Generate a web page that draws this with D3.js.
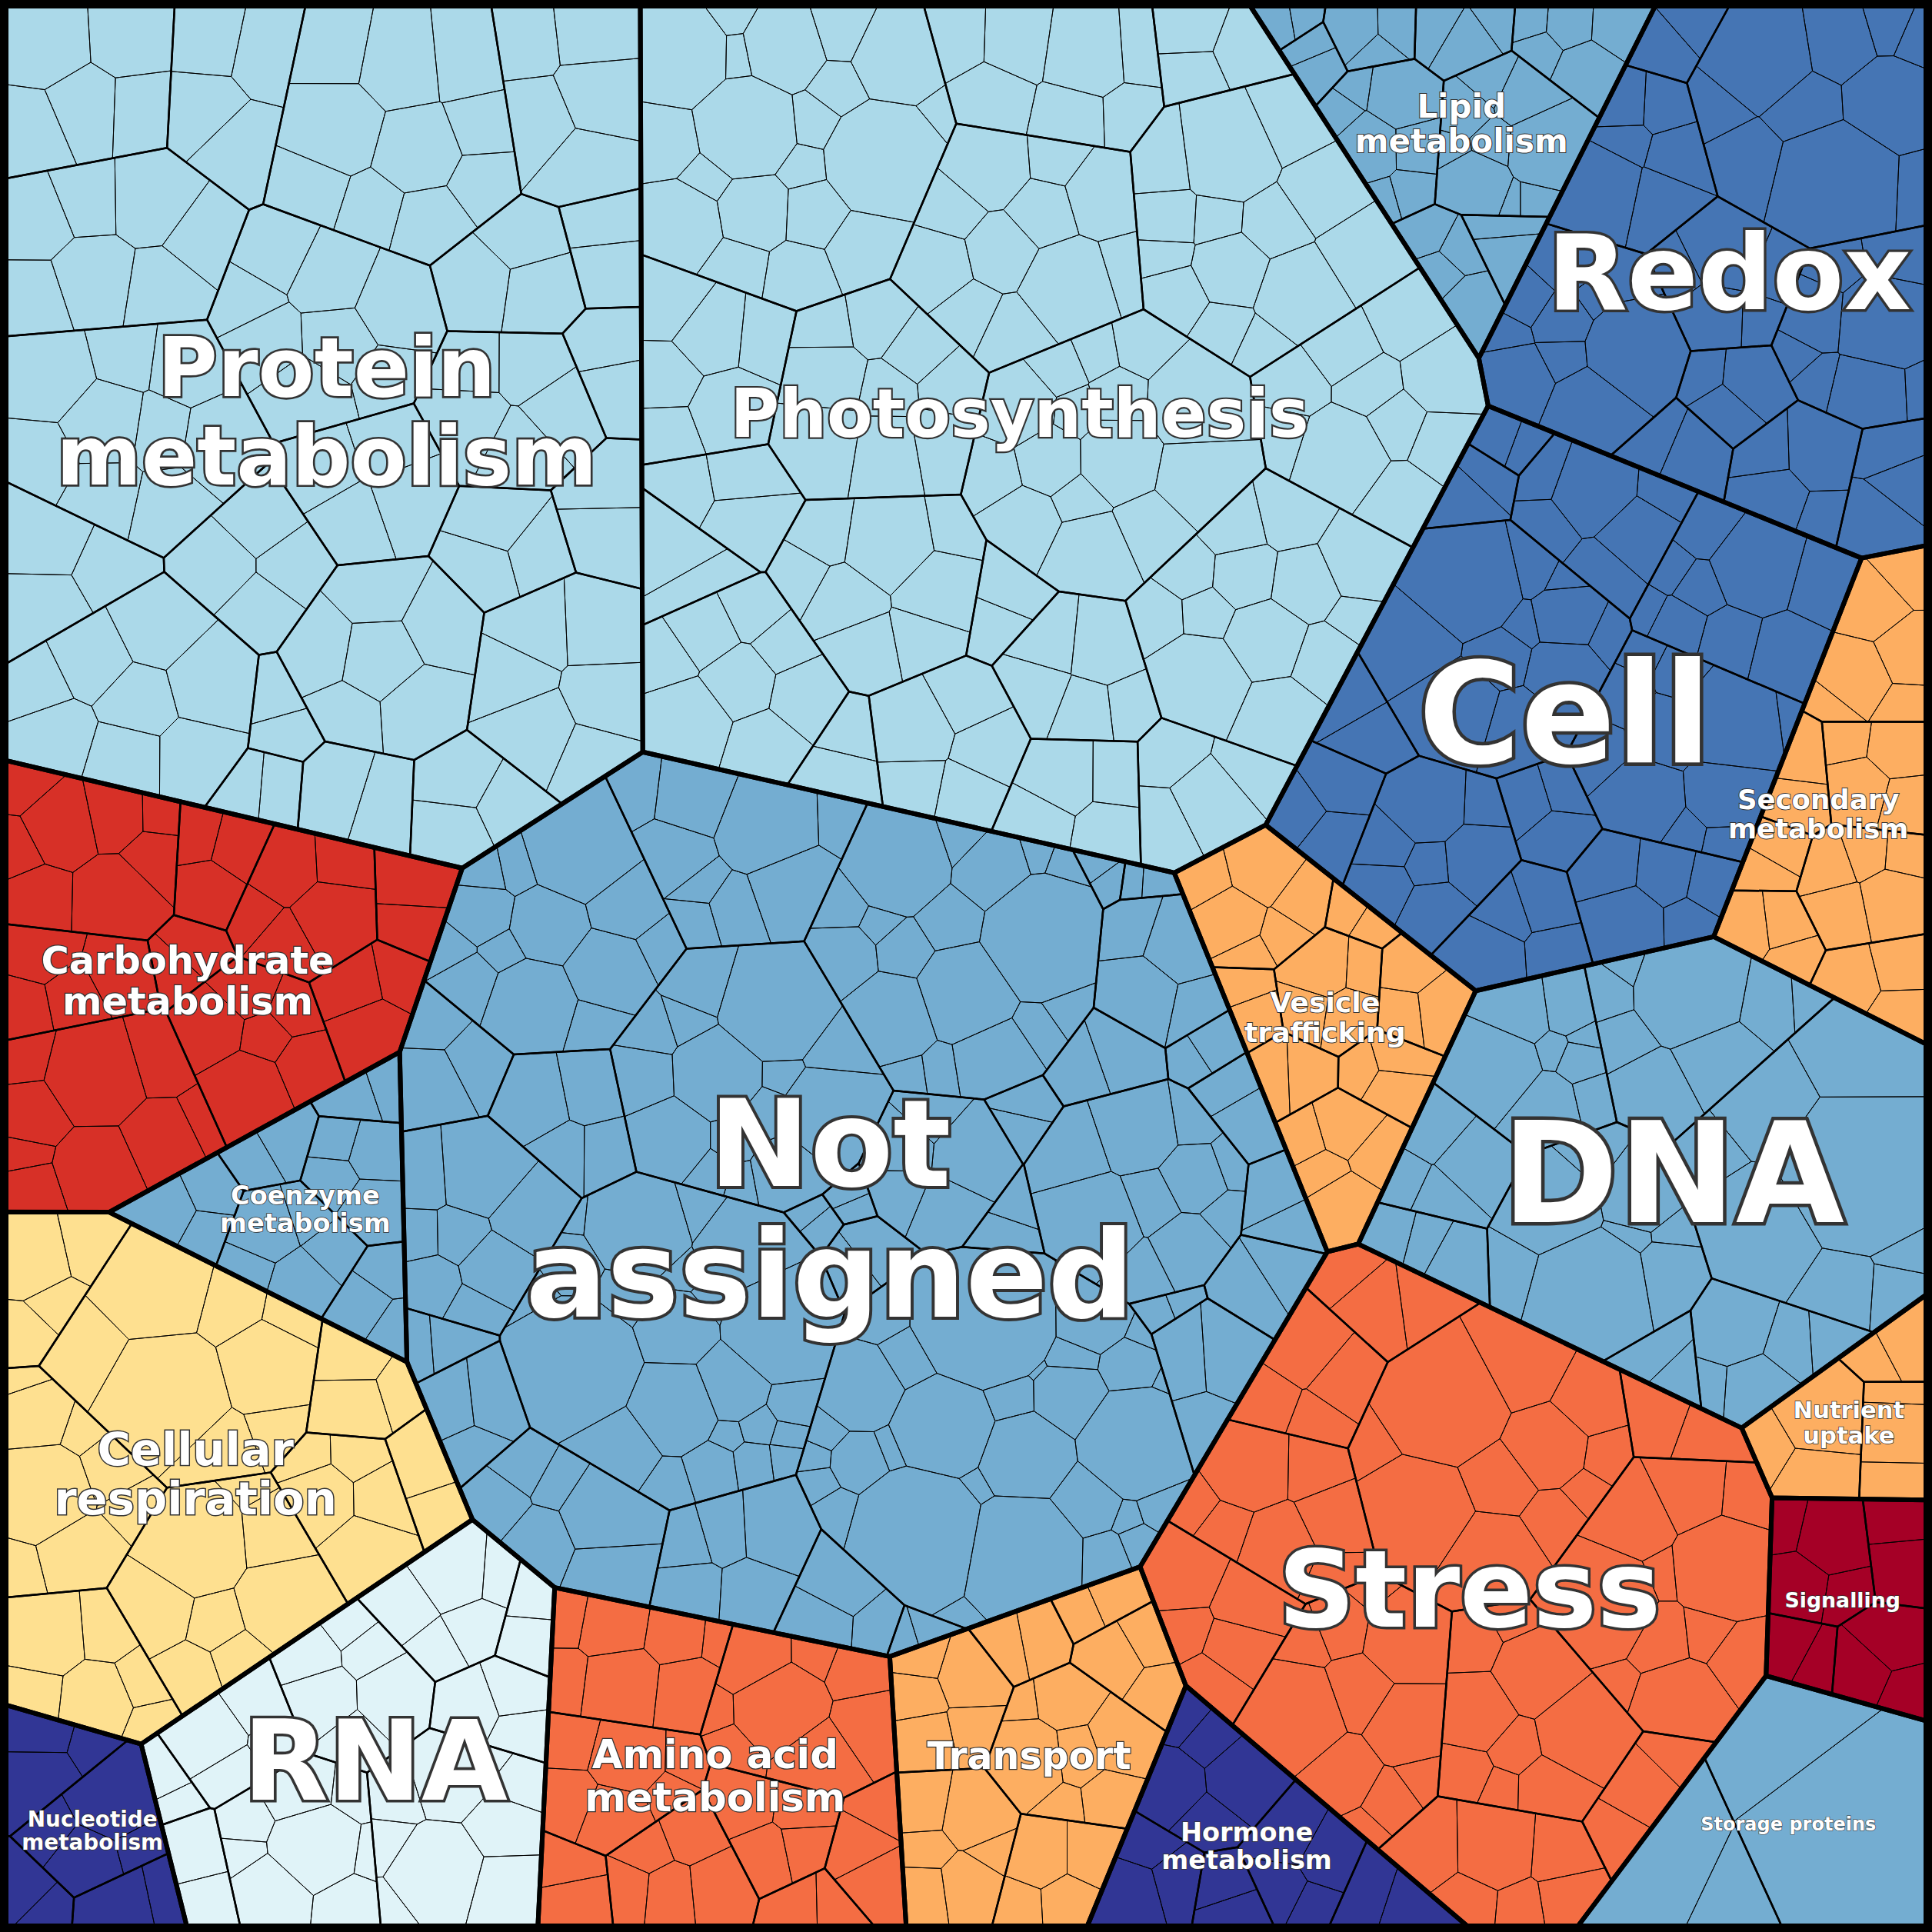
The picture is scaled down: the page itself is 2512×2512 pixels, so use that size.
<!DOCTYPE html>
<html><head><meta charset="utf-8">
<script src="https://cdn.jsdelivr.net/npm/d3@7"></script>
<style>body{margin:0;background:#fff}svg{display:block}</style>
</head><body><svg id="chart" width="2512" height="2512"></svg>
<script>
// top-level bins, relative areas
const categories = ["Photosynthesis","Protein metabolism","Not assigned","Redox","Cell","Lipid metabolism","DNA","Stress","Secondary metabolism","Vesicle trafficking","Carbohydrate metabolism","Cellular respiration","Coenzyme metabolism","RNA","Amino acid metabolism","Transport","Hormone metabolism","Storage proteins","Nutrient uptake","Signalling","Nucleotide metabolism"];
const labels = ["Photosynthesis","Protein\nmetabolism","Not\nassigned","Redox","Cell","Lipid\nmetabolism","DNA","Stress","Secondary\nmetabolism","Vesicle\ntrafficking","Carbohydrate\nmetabolism","Cellular\nrespiration","Coenzyme\nmetabolism","RNA","Amino acid\nmetabolism","Transport","Hormone\nmetabolism","Storage proteins","Nutrient\nuptake","Signalling","Nucleotide\nmetabolism"];
const areas = [420,360,450,130,150,50,135,200,45,45,100,120,32,85,75,55,32,42,17,22,22];
const colors = ["#abd9e9","#abd9e9","#74add1","#4575b4","#4575b4","#74add1","#74add1","#f46d43","#fdae61","#fdae61","#d73027","#fee090","#74add1","#e0f3f8","#f46d43","#fdae61","#313695","#74add1","#fdae61","#a50026","#313695"];
// second-level bin sizes per category
const children = [
  [40,30,28,25,22,20,18,16,15,14,12,10,9,8,7,6,5,4,3,3],
  [20,18,16,15,14,12,12,10,10,9,8,8,7,6,6,5,5,4,4,3,3,2,2],
  [60,45,35,30,25,20,18,15,12,10,10,8,8,6,6,5,5,4,4,3,3,3,2,2,2,2,1,1,1,1,1,1],
  [30,20,15,12,10,8,6,5,4,3],
  [30,22,18,14,12,10,8,6,5,4,3,2],
  [20,14,10,8,6,5,4,3,2],
  [40,25,20,15,10,8,5,3],
  [35,28,22,18,14,12,10,8,6,5,4],
  [12,10,8,6,5,4,3],
  [12,10,8,6,5,4,3,2],
  [20,15,12,10,8,6,5,4,3],
  [30,22,16,12,10,8,6,4],
  [10,8,6,5,4,3],
  [20,15,12,10,8,6,4,3,2],
  [18,14,12,10,8,6,4,3],
  [15,12,10,8,6,4,3],
  [10,8,6,4,3],
  [30,12],
  [8,5,3],
  [8,6,4,3],
  [10,6,4,3]
];
// starting sites for the top-level layout (fractions of the square)
const seeds = [[.51,.21],[.15,.29],[.51,.64],[.9,.11],[.85,.31],[.77,.07],[.89,.61],[.78,.81],[.94,.41],[.82,.49],[.12,.61],[.1,.82],[.23,.76],[.24,.9],[.4,.91],[.55,.92],[.68,.96],[.88,.96],[.975,.78],[.965,.9],[.06,.97]];

const W = 2512, pad = 8;
const svg = d3.select("#chart");

function clipHalf(poly, a, b, c) {
  const out = [];
  for (let k = 0; k < poly.length; k++) {
    const p = poly[k], q = poly[(k + 1) % poly.length];
    const fp = a * p[0] + b * p[1] - c, fq = a * q[0] + b * q[1] - c;
    if (fp <= 0) out.push(p);
    if ((fp <= 0) !== (fq <= 0)) {
      const t = fp / (fp - fq);
      out.push([p[0] + t * (q[0] - p[0]), p[1] + t * (q[1] - p[1])]);
    }
  }
  return out;
}
function powerCells(sites, w, clip) {
  return sites.map((s, i) => {
    let cell = clip;
    for (let j = 0; j < sites.length && cell.length; j++) {
      if (j === i) continue;
      const t = sites[j];
      cell = clipHalf(cell, 2 * (t[0] - s[0]), 2 * (t[1] - s[1]),
        t[0] * t[0] + t[1] * t[1] - w[j] - s[0] * s[0] - s[1] * s[1] + w[i]);
    }
    return cell;
  });
}
function voronoiMap(clip, values, init, iters, move, keep) {
  const total = d3.sum(values), A = Math.abs(d3.polygonArea(clip));
  const target = values.map(v => v / total * A);
  let sites = init.map(p => p.slice());
  let w = target.map(t => t * 0.05);
  let cells;
  for (let it = 0; it < iters; it++) {
    cells = powerCells(sites, w, clip);
    cells.forEach((c, i) => {
      const ar = c.length > 2 ? Math.abs(d3.polygonArea(c)) : 0;
      if (c.length > 2) {
        const ce = d3.polygonCentroid(c);
        sites[i] = [sites[i][0] + move * (ce[0] - sites[i][0]), sites[i][1] + move * (ce[1] - sites[i][1])];
      }
      let r = target[i] / Math.max(ar, 1);
      r = Math.max(0.7, Math.min(1.4, r));
      // additive step in weight keeps small cells alive
      w[i] = w[i] + (r - 1) * target[i] * 0.5;
    });
    if (keep)
      for (let i = 0; i < sites.length; i++)
        for (let j = 0; j < sites.length; j++) {
          if (i === j) continue;
          const d2 = (sites[i][0] - sites[j][0]) ** 2 + (sites[i][1] - sites[j][1]) ** 2;
          if (w[j] - w[i] > d2 * 0.9) w[j] = w[i] + d2 * 0.9;
        }
  }
  return powerCells(sites, w, clip);
}
function rng(seed) {
  return () => { seed |= 0; seed = seed + 0x6D2B79F5 | 0; let t = Math.imul(seed ^ seed >>> 15, 1 | seed);
    t = t + Math.imul(t ^ t >>> 7, 61 | t) ^ t; return ((t ^ t >>> 14) >>> 0) / 4294967296; };
}
function samplesIn(poly, n, rand) {
  const xs = poly.map(p => p[0]), ys = poly.map(p => p[1]);
  const x0 = d3.min(xs), x1 = d3.max(xs), y0 = d3.min(ys), y1 = d3.max(ys);
  const pts = [];
  while (pts.length < n) {
    const p = [x0 + rand() * (x1 - x0), y0 + rand() * (y1 - y0)];
    if (d3.polygonContains(poly, p)) pts.push(p);
  }
  return pts;
}

const frame = [[pad, pad], [W - pad, pad], [W - pad, W - pad], [pad, W - pad]];
const x = d3.scaleLinear().domain([0, 1]).range([pad, W - pad]);
const topCells = voronoiMap(frame, areas, seeds.map(s => [x(s[0]), x(s[1])]), 600, 0.02, false);

const gFill = svg.append("g"), gLines = svg.append("g"), gTop = svg.append("g"), gText = svg.append("g");
const line = d3.line();
const rand = rng(7);
topCells.forEach((cell, i) => {
  if (cell.length < 3) return;
  gFill.append("path").attr("d", line(cell) + "Z").attr("fill", colors[i]);
  const vals = children[i];
  const sub = voronoiMap(cell, vals, samplesIn(cell, vals.length, rand), 80, 1, true);
  sub.forEach((c, k) => {
    if (c.length < 3) return;
    gLines.append("path").attr("d", line(c) + "Z").attr("fill", "none")
      .attr("stroke", "#000").attr("stroke-width", 2.5).attr("stroke-linejoin", "round");
    // third level texture
    const n = Math.min(Math.max(2, Math.round(vals[k] / 2)), vals.length);
    const leaves = voronoiMap(c, vals.slice(0, n), samplesIn(c, n, rand), 25, 1, true);
    leaves.forEach(l => {
      if (l.length < 3) return;
      gLines.append("path").attr("d", line(l) + "Z").attr("fill", "none")
        .attr("stroke", "#000").attr("stroke-width", 1);
    });
  });
  gTop.append("path").attr("d", line(cell) + "Z").attr("fill", "none")
    .attr("stroke", "#000").attr("stroke-width", 6).attr("stroke-linejoin", "round");

  const lines = labels[i].split("\n");
  const xs = cell.map(p => p[0]);
  const bw = d3.max(xs) - d3.min(xs);
  const ar = Math.abs(d3.polygonArea(cell));
  const maxc = d3.max(lines, l => l.length);
  const fs = Math.min(0.85 * bw / (0.66 * maxc), 0.75 * Math.sqrt(ar) / (0.62 * maxc), 0.32 * Math.sqrt(ar) / lines.length, 200);
  let [cx, cy] = d3.polygonCentroid(cell);
  const hw = 0.36 * maxc * fs + 12;
  cx = Math.max(pad + hw, Math.min(W - pad - hw, cx));
  const t = gText.append("text").attr("text-anchor", "middle")
    .attr("font-family", "DejaVu Sans").attr("font-weight", "bold").attr("font-size", fs)
    .attr("fill", "#fff").attr("stroke", "#333").attr("stroke-width", fs * 0.05)
    .attr("paint-order", "stroke");
  lines.forEach((l, k) => t.append("tspan").attr("x", cx)
    .attr("y", cy + (k - (lines.length - 1) / 2) * fs * 1.08 + fs * 0.36).text(l));
});
svg.append("rect").attr("x", pad / 2).attr("y", pad / 2).attr("width", W - pad).attr("height", W - pad)
  .attr("fill", "none").attr("stroke", "#000").attr("stroke-width", pad);
</script></body></html>
